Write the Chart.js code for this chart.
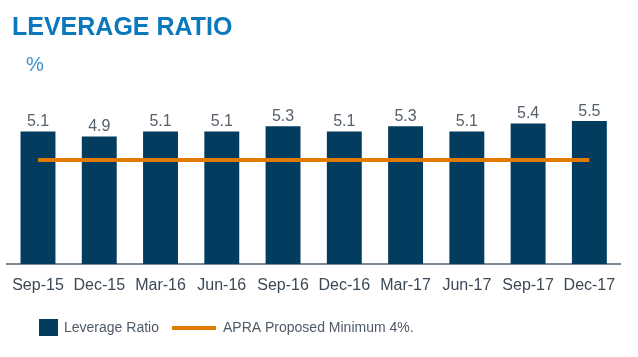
<!DOCTYPE html>
<html>
<head>
<meta charset="utf-8">
<script src="https://cdn.jsdelivr.net/npm/chart.js@4"></script>
<style>
  html, body { margin: 0; padding: 0; background: #ffffff; }
  #wrap { position: relative; width: 638px; height: 357px; overflow: hidden; }
  #title { position: absolute; left: 12px; top: 14px; font: bold 25px "Liberation Sans", Arial, sans-serif; line-height: 1; color: #0a78bd; white-space: nowrap; }
  #unit { position: absolute; left: 26px; top: 54px; font: 20px "Liberation Sans", Arial, sans-serif; line-height: 1; color: #3a93d3; }
  canvas { position: absolute; left: 0; top: 0; }
</style>
</head>
<body>
<div id="wrap">
  <canvas id="c" width="638" height="357"></canvas>
  <div id="title">LEVERAGE RATIO</div>
  <div id="unit">%</div>
</div>
<script>
const categories = ["Sep-15", "Dec-15", "Mar-16", "Jun-16", "Sep-16", "Dec-16", "Mar-17", "Jun-17", "Sep-17", "Dec-17"];
const leverageRatio = [5.1, 4.9, 5.1, 5.1, 5.3, 5.1, 5.3, 5.1, 5.4, 5.5];
const apraMinimum = [4, 4, 4, 4, 4, 4, 4, 4, 4, 4];

const BAR_COLOR = "#023d5f";
const LINE_COLOR = "#e07a00";
const FONT = "'Liberation Sans', Arial, sans-serif";

const valueLabels = {
  id: "valueLabels",
  afterDatasetsDraw(chart) {
    const ctx = chart.ctx;
    chart.data.datasets.forEach((ds, i) => {
      if (ds.type !== "bar") return;
      const meta = chart.getDatasetMeta(i);
      ctx.save();
      ctx.font = "16px " + FONT;
      ctx.fillStyle = "#56616c";
      ctx.textAlign = "center";
      ctx.textBaseline = "alphabetic";
      meta.data.forEach((el, j) => {
        ctx.fillText(ds.data[j].toFixed(1), el.x, el.y - 5.5);
      });
      ctx.restore();
    });
  }
};

const customLegend = {
  id: "customLegend",
  afterDraw(chart) {
    const ctx = chart.ctx;
    const ds = chart.data.datasets;
    const bar = ds.find(d => d.type === "bar");
    const line = ds.find(d => d.type === "line");
    const cy = 328;
    ctx.save();
    ctx.font = "14px " + FONT;
    ctx.textBaseline = "middle";
    ctx.textAlign = "left";
    ctx.fillStyle = bar.backgroundColor;
    ctx.fillRect(39, 319, 19, 17);
    ctx.fillStyle = "#4f5a66";
    ctx.fillText(bar.label, 64, cy);
    ctx.strokeStyle = line.borderColor;
    ctx.lineWidth = 4;
    ctx.beginPath();
    ctx.moveTo(172, cy);
    ctx.lineTo(216, cy);
    ctx.stroke();
    ctx.fillStyle = "#4f5a66";
    ctx.fillText(line.label, 223, cy);
    ctx.restore();
  }
};

new Chart(document.getElementById("c"), {
  data: {
    labels: categories,
    datasets: [
      {
        type: "line",
        label: "APRA Proposed Minimum 4%.",
        data: apraMinimum,
        borderColor: LINE_COLOR,
        backgroundColor: LINE_COLOR,
        borderWidth: 4,
        pointRadius: 0,
        tension: 0,
        order: 0
      },
      {
        type: "bar",
        label: "Leverage Ratio",
        data: leverageRatio,
        backgroundColor: BAR_COLOR,
        borderWidth: 0,
        categoryPercentage: 1,
        barPercentage: 0.57,
        order: 1
      }
    ]
  },
  options: {
    responsive: false,
    animation: false,
    devicePixelRatio: 1,
    layout: { padding: { left: 4, right: 18, top: 108, bottom: 53 } },
    plugins: {
      legend: { display: false },
      tooltip: { enabled: false },
      title: { display: false }
    },
    scales: {
      x: {
        offset: true,
        grid: { display: false, drawTicks: false },
        border: { display: true, color: "#7b8895", width: 2 },
        ticks: { color: "#3b4856", font: { family: FONT, size: 16 }, padding: 12, maxRotation: 0, autoSkip: false },
        afterFit(s) { s.height = 40; }
      },
      y: {
        display: false,
        min: 0,
        max: 6
      }
    }
  },
  plugins: [valueLabels, customLegend]
});
</script>
</body>
</html>
